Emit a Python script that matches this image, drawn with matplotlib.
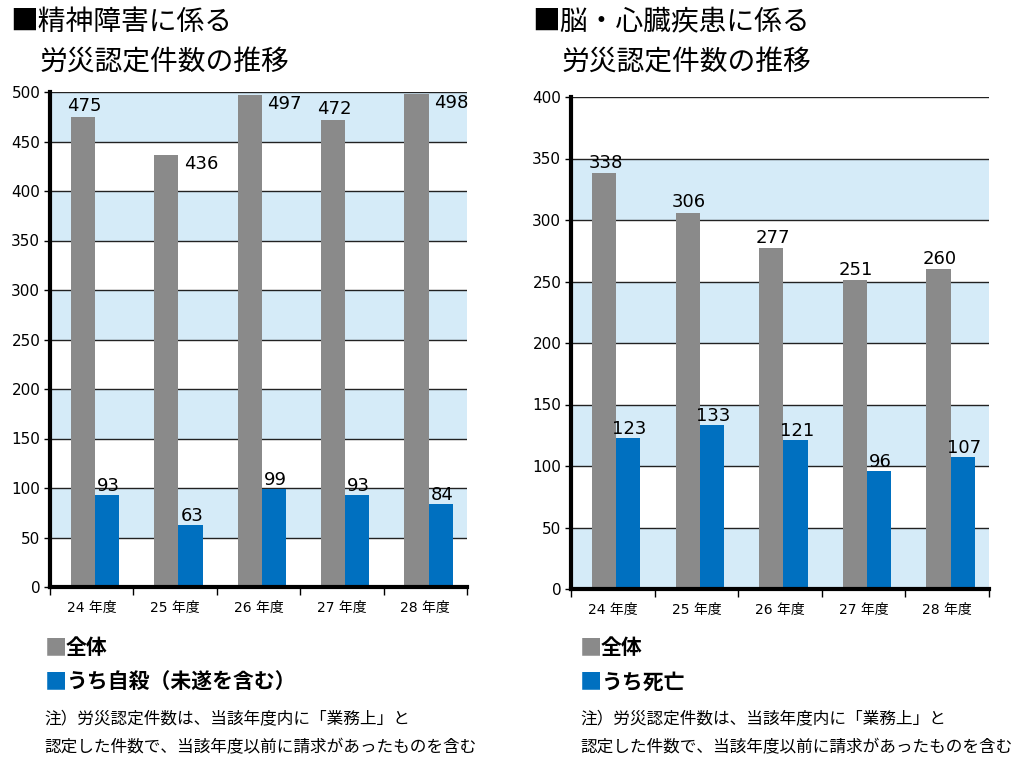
import numpy as np
import matplotlib.pyplot as plt
from matplotlib.patches import Rectangle

plt.rcParams['font.family'] = ['Noto Sans CJK JP', 'DejaVu Sans']

years = ['24 年度', '25 年度', '26 年度', '27 年度', '28 年度']

# 精神障害
mental_total = [475, 436, 497, 472, 498]
mental_suicide = [93, 63, 99, 93, 84]
mental_total_pos = ['top', 'right', 'right', 'top', 'right']

# 脳・心臓疾患
brain_total = [338, 306, 277, 251, 260]
brain_death = [123, 133, 121, 96, 107]
brain_total_pos = ['top', 'top', 'top', 'top', 'top']

GRAY = '#8a8a8a'
BLUE = '#0070c0'
BAND = '#d5ebf8'
NUM_FONT = ['DejaVu Sans', 'Noto Sans CJK JP']

fig = plt.figure(figsize=(10.24, 7.81), dpi=100)
W, H = 1024, 781


def make_axes(x0, x1, ytop, ybot):
    return fig.add_axes([x0 / W, 1 - ybot / H, (x1 - x0) / W, (ybot - ytop) / H])


def draw_chart(ax, total, sub, pos, ymax, band_start):
    n = len(total)
    x = np.arange(n)
    w = 0.29
    off = 0.04
    ax.set_xlim(-0.5, n - 0.5)
    ax.set_ylim(0, ymax)
    # background bands
    for y0 in range(band_start, ymax, 100):
        ax.add_patch(Rectangle((-0.5, y0), n, 50, facecolor=BAND,
                               edgecolor='none', zorder=0))
    for y in range(50, ymax + 1, 50):
        ax.axhline(y, color='#222222', lw=1.0, zorder=1)
    ax.bar(x + off - w / 2, total, w, color=GRAY, zorder=2)
    ax.bar(x + off + w / 2, sub, w, color=BLUE, zorder=2)
    for i in range(n):
        if pos[i] == 'right':
            ax.annotate(str(total[i]), (x[i] + off, total[i]),
                        xytext=(4, 0), textcoords='offset points',
                        ha='left', va='top', fontsize=13, family=NUM_FONT)
        else:
            ax.annotate(str(total[i]), (x[i] + off - w / 2, total[i]),
                        xytext=(1, 1), textcoords='offset points',
                        ha='center', va='bottom', fontsize=13, family=NUM_FONT)
        ax.annotate(str(sub[i]), (x[i] + off + w / 2, sub[i]),
                    xytext=(1, 0), textcoords='offset points',
                    ha='center', va='bottom', fontsize=13, family=NUM_FONT)
    ax.set_yticks(range(0, ymax + 1, 50))
    ax.set_yticklabels([str(v) for v in range(0, ymax + 1, 50)],
                       fontsize=11, family=NUM_FONT)
    ax.set_xticks(np.arange(-0.5, n, 1.0), minor=False)
    ax.set_xticklabels([])
    ax.set_xticks(x, minor=True)
    ax.set_xticklabels(years, minor=True, fontsize=10, family=NUM_FONT)
    ax.tick_params(axis='x', which='major', length=6, width=1, direction='out')
    ax.tick_params(axis='x', which='minor', length=0, pad=10)
    ax.tick_params(axis='y', length=4, width=1, pad=3)
    for s in ['top', 'right']:
        ax.spines[s].set_visible(False)
    ax.spines['left'].set_linewidth(3)
    ax.spines['bottom'].set_linewidth(3)
    ax.spines['left'].set_zorder(3)
    ax.spines['bottom'].set_zorder(3)


ax1 = make_axes(50, 467, 92, 587)
draw_chart(ax1, mental_total, mental_suicide, mental_total_pos, 500, 50)

ax2 = make_axes(571, 989, 97, 589)
draw_chart(ax2, brain_total, brain_death, brain_total_pos, 400, 0)

# titles
fig.text(10 / W, 1 - 22 / H, '■精神障害に係る', fontsize=20, va='center', ha='left')
fig.text(40 / W, 1 - 62 / H, '労災認定件数の推移', fontsize=20, va='center', ha='left')
fig.text(532 / W, 1 - 22 / H, '■脳・心臓疾患に係る', fontsize=20, va='center', ha='left')
fig.text(562 / W, 1 - 62 / H, '労災認定件数の推移', fontsize=20, va='center', ha='left')

# legends
def legend(x, labels):
    ys = [648, 682]
    for y, (col, lab) in zip(ys, labels):
        fig.text(x / W, 1 - y / H, '■', color=col, fontsize=16,
                 va='center', ha='left')
        fig.text((x + 21) / W, 1 - y / H, lab, fontsize=15, weight='bold',
                 va='center', ha='left')

legend(45, [(GRAY, '全体'), (BLUE, 'うち自殺（未遂を含む）')])
legend(580, [(GRAY, '全体'), (BLUE, 'うち死亡')])

note1 = '注）労災認定件数は、当該年度内に「業務上」と'
note2 = '認定した件数で、当該年度以前に請求があったものを含む'
for x in (44, 580):
    fig.text(x / W, 1 - 720 / H, note1, fontsize=12, va='center', ha='left')
    fig.text(x / W, 1 - 748 / H, note2, fontsize=12, va='center', ha='left')

fig.savefig('out.png', dpi=100)
